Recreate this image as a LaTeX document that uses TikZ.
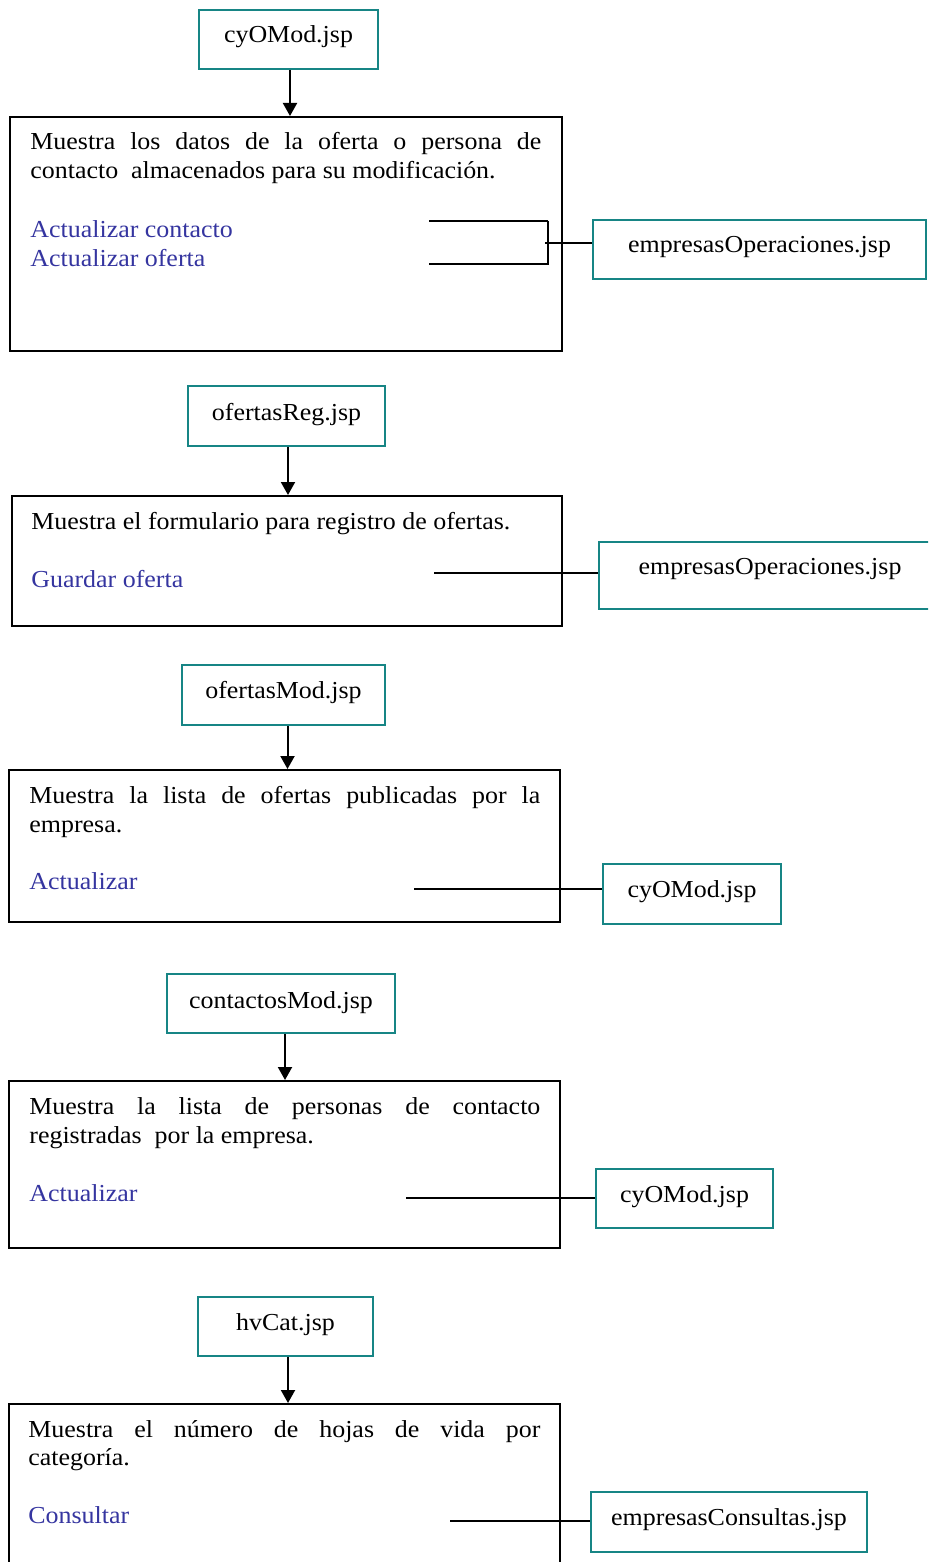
\documentclass[tikz,border=0pt]{standalone}
\usepackage{fontspec}
\setmainfont{Liberation Serif}[FakeStretch=1.063]
\usetikzlibrary{arrows.meta}
\definecolor{tealc}{HTML}{178585}
\definecolor{linkc}{HTML}{3535A0}
\begin{document}
\begin{tikzpicture}[x=0.5pt,y=-0.5pt,
  font=\fontsize{12.2pt}{14pt}\selectfont,
  tbox/.style={draw=tealc, line width=1pt, inner xsep=0pt, inner ysep=0pt, anchor=base, align=center},
  mbox/.style={draw=black, line width=1pt, inner sep=0pt},
  txt/.style={anchor=base west, inner sep=0pt},
  lnk/.style={txt, text=linkc},
  conn/.style={line width=1.1pt},
  arr/.style={line width=1pt, -{Triangle[length=6.5pt,width=7pt]}}]
\useasboundingbox (0,0) rectangle (928,1562);
\fill[white] (0,0) rectangle (928,1562);
\clip (0,0) rectangle (928,1562);

% ---------- section 1 ----------
\node[tbox, minimum width=89.5pt, text height=16.5pt, text depth=13pt] (s1) at (288.5,43) {cyOMod.jsp};
\node[mbox, minimum width=276pt, minimum height=117pt] (m1) at (286,234) {};
\draw[arr] ([xshift=0.75pt]s1.south) -- ([xshift=0.75pt]s1.south |- m1.north);
\node[txt] (m1l1) at (30,150) {\makebox[255.5pt][s]{Muestra los datos de la oferta o persona de}};
\node[txt] (m1l2) at (30,179) {contacto\ \ almacenados para su modificación.};
\node[lnk] (m1a) at (30,237) {Actualizar contacto};
\node[lnk] (m1b) at (30,266) {Actualizar oferta};
\node[tbox, minimum width=166.5pt, text height=16.5pt, text depth=13pt] (r1) at (759.5,253) {empresasOperaciones.jsp};
\coordinate (b1a) at (429,221);
\coordinate (b1b) at (429,264);
\coordinate (b1t) at (548,221);
\coordinate (b1u) at (548,265);
\coordinate (j1) at (545,243);
\draw[conn] (b1a) -- (b1t);
\draw[conn] (b1b) -- (b1b -| b1t);
\draw[conn] (b1t) -- (b1u);
\draw[conn] (j1) -- (j1 -| r1.west);

% ---------- section 2 ----------
\node[tbox, minimum width=98.5pt, text height=17pt, text depth=13pt] (s2) at (286.5,420) {ofertasReg.jsp};
\node[mbox, minimum width=275pt, minimum height=65pt] (m2) at (287,561) {};
\draw[arr] ([xshift=0.75pt]s2.south) -- ([xshift=0.75pt]s2.south |- m2.north);
\node[txt] (m2l1) at (31,529) {Muestra el formulario para registro de ofertas.};
\node[lnk] (m2a) at (31,587) {Guardar oferta};
\node[tbox, minimum width=171pt, text height=16pt, text depth=17.5pt] (r2) at (770,574) {empresasOperaciones.jsp};
\coordinate (c2) at (434,573);
\draw[conn] (c2) -- (c2 -| r2.west);

% ---------- section 3 ----------
\node[tbox, minimum width=101.5pt, text height=16.5pt, text depth=13.5pt] (s3) at (283.5,698) {ofertasMod.jsp};
\node[mbox, minimum width=275.5pt, minimum height=76pt] (m3) at (284.5,846) {};
\draw[arr] ([xshift=2pt]s3.south) -- ([xshift=2pt]s3.south |- m3.north);
\node[txt] (m3l1) at (29,803) {\makebox[255.5pt][s]{Muestra la lista de ofertas publicadas por la}};
\node[txt] (m3l2) at (29,832) {empresa.};
\node[lnk] (m3a) at (29,889) {Actualizar};
\node[tbox, minimum width=89pt, text height=16.5pt, text depth=13.5pt] (r3) at (692,897) {cyOMod.jsp};
\coordinate (c3) at (414,889);
\draw[conn] (c3) -- (c3 -| r3.west);

% ---------- section 4 ----------
\node[tbox, minimum width=114pt, text height=17pt, text depth=12.5pt] (s4) at (281,1008) {contactosMod.jsp};
\node[mbox, minimum width=275.5pt, minimum height=83.5pt] (m4) at (284.5,1164.5) {};
\draw[arr] ([xshift=2pt]s4.south) -- ([xshift=2pt]s4.south |- m4.north);
\node[txt] (m4l1) at (29,1114) {\makebox[255.5pt][s]{Muestra la lista de personas de contacto}};
\node[txt] (m4l2) at (29,1143) {registradas\ \ por la empresa.};
\node[lnk] (m4a) at (29,1201) {Actualizar};
\node[tbox, minimum width=88.5pt, text height=16.5pt, text depth=13pt] (r4) at (684.5,1202) {cyOMod.jsp};
\coordinate (c4) at (406,1198);
\draw[conn] (c4) -- (c4 -| r4.west);

% ---------- section 5 ----------
\node[tbox, minimum width=87.5pt, text height=16.5pt, text depth=13pt] (s5) at (285.5,1330) {hvCat.jsp};
\node[mbox, minimum width=275.5pt, minimum height=98pt] (m5) at (284.5,1502) {};
\draw[arr] ([xshift=1.25pt]s5.south) -- ([xshift=1.25pt]s5.south |- m5.north);
\node[txt] (m5l1) at (28,1437) {\makebox[256pt][s]{Muestra el número de hojas de vida por}};
\node[txt] (m5l2) at (28,1465) {categoría.};
\node[lnk] (m5a) at (28,1523) {Consultar};
\node[tbox, minimum width=138pt, text height=16.5pt, text depth=13.5pt] (r5) at (729,1525) {empresasConsultas.jsp};
\coordinate (c5) at (450,1521);
\draw[conn] (c5) -- (c5 -| r5.west);
\end{tikzpicture}
\end{document}
